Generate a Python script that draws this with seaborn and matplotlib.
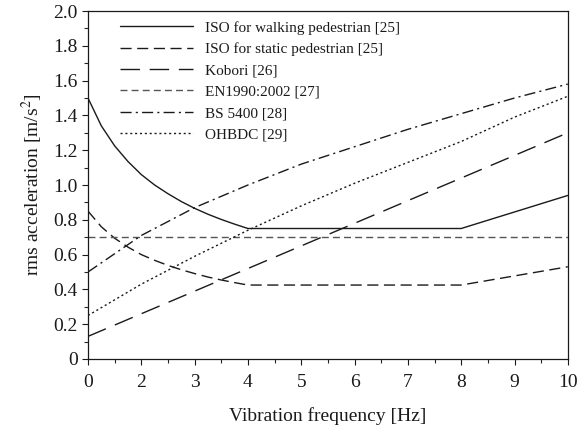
import matplotlib
matplotlib.use("Agg")
import matplotlib.pyplot as plt
import seaborn as sns
import numpy as np

# ---- data ----
x_ticks = [1, 2, 3, 4, 5, 6, 7, 8, 9, 10]
x_tick_labels = ["0", "2", "3", "4", "5", "6", "7", "8", "9", "10"]
y_ticks = [0, 0.2, 0.4, 0.6, 0.8, 1.0, 1.2, 1.4, 1.6, 1.8, 2.0]
y_tick_labels = ["0", "0.2", "0.4", "0.6", "0.8", "1.0", "1.2", "1.4", "1.6", "1.8", "2.0"]

iso_walk_f = [1, 1.25, 1.5, 1.75, 2, 2.25, 2.5, 2.75, 3, 3.25, 3.5, 3.75, 4, 8, 10]
iso_walk_a = [1.50, 1.34, 1.225, 1.135, 1.06, 1.00, 0.95, 0.905, 0.866, 0.832,
              0.802, 0.775, 0.75, 0.75, 0.94]

iso_static_f = [1, 1.25, 1.5, 1.75, 2, 2.25, 2.5, 2.75, 3, 3.25, 3.5, 3.75, 4, 8, 10]
iso_static_a = [0.85, 0.76, 0.694, 0.643, 0.60, 0.567, 0.538, 0.513, 0.491, 0.471,
                0.454, 0.439, 0.425, 0.425, 0.53]

kobori_f = [1, 10]
kobori_a = [0.13, 1.30]

en_f = [1, 10]
en_a = [0.70, 0.70]

bs_f = [1, 2, 3, 4, 5, 6, 7, 8, 9, 10]
bs_a = [0.50, 0.71, 0.87, 1.00, 1.12, 1.22, 1.32, 1.41, 1.50, 1.58]

oh_f = [1, 2, 3, 4, 5, 6, 7, 8, 9, 10]
oh_a = [0.25, 0.43, 0.59, 0.74, 0.88, 1.01, 1.13, 1.25, 1.39, 1.51]

labels = ["ISO for walking pedestrian [25]", "ISO for static pedestrian [25]",
          "Kobori [26]", "EN1990:2002 [27]", "BS 5400 [28]", "OHBDC [29]"]

# ---- style ----
sns.set_theme(style="ticks")
plt.rcParams["font.family"] = ["Liberation Serif", "DejaVu Serif"]
plt.rcParams["mathtext.fontset"] = "stix"

fig = plt.figure(figsize=(5.8, 4.32), dpi=100)
ax = fig.add_axes([0.1517, 0.169, 0.8273, 0.8055])

series = [
    (iso_walk_f, iso_walk_a, "#1a1a1a", "-"),
    (iso_static_f, iso_static_a, "#1a1a1a", (0, (8, 4))),
    (kobori_f, kobori_a, "#1a1a1a", (0, (14, 7))),
    (en_f, en_a, "#555555", (0, (5, 3))),
    (bs_f, bs_a, "#1a1a1a", (0, (8, 3, 1.5, 3))),
    (oh_f, oh_a, "#1a1a1a", (0, (1.5, 2))),
]
for (fx, fy, col, ls), lab in zip(series, labels):
    sns.lineplot(x=fx, y=fy, ax=ax, color=col, label=lab, lw=1.0, sort=False)
    ax.lines[-1].set_linestyle(ls)

ax.set_xlim(1, 10)
ax.set_ylim(0, 2.0)
ax.set_xticks(x_ticks)
ax.set_xticklabels(x_tick_labels)
ax.set_xticks(np.arange(1.5, 10, 1.0), minor=True)
ax.set_yticks(y_ticks)
ax.set_yticklabels(y_tick_labels)
ax.set_yticks(np.arange(0.1, 2.0, 0.2), minor=True)

ax.tick_params(axis="both", which="major", direction="out", length=4.5, width=0.8,
               labelsize=14, colors="#1a1a1a", pad=3)
ax.tick_params(axis="both", which="minor", direction="out", length=3, width=0.8)
ax.tick_params(axis="x", which="major", pad=6)

for sp in ax.spines.values():
    sp.set_visible(True)
    sp.set_color("#1a1a1a")
    sp.set_linewidth(0.9)

ax.set_xlabel("Vibration frequency [Hz]", fontsize=14, labelpad=12, color="#1a1a1a")
ax.set_ylabel(r"rms acceleration [m/s$^2$]", fontsize=14, labelpad=6, color="#1a1a1a")

leg = ax.legend(loc="upper left", bbox_to_anchor=(0.045, 1.0), frameon=False,
                fontsize=11, handlelength=4.8, handletextpad=0.8, labelspacing=0.5,
                borderaxespad=0.25)
for t in leg.get_texts():
    t.set_color("#1a1a1a")

ax.set_facecolor("white")
fig.patch.set_facecolor("white")
fig.savefig("out.png", dpi=100)
